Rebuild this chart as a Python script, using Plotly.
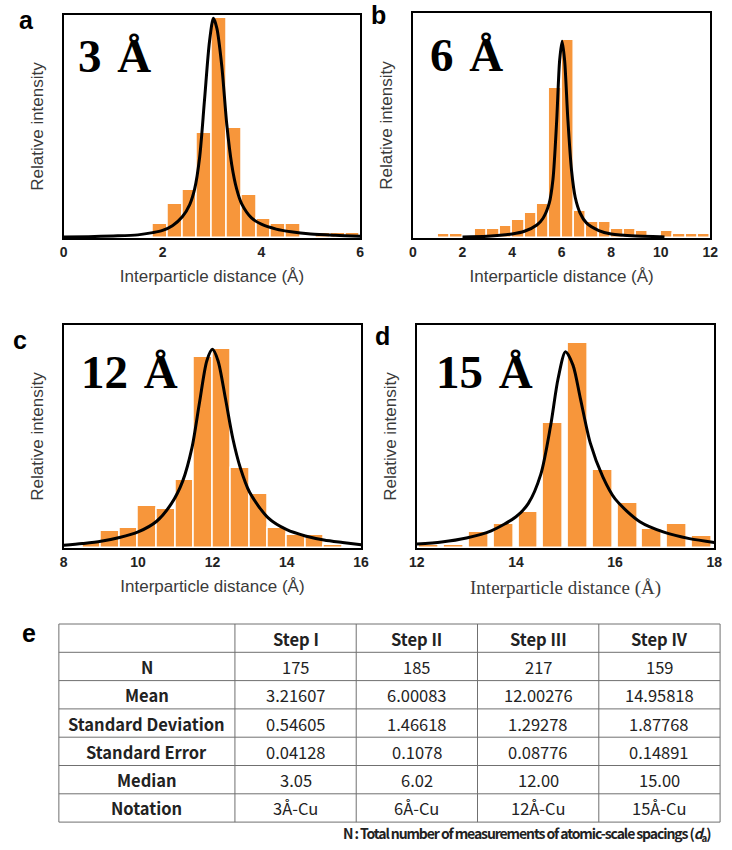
import plotly.graph_objects as go

# ---------------- data ----------------
# Panel a: 3 Å spacing histogram (bin centres, relative intensity) and fitted curve
a_bin_x = [1.95, 2.25, 2.55, 2.85, 3.15, 3.45, 3.75, 4.05, 4.35, 4.65, 5.25, 5.55, 5.85]
a_bin_y = [0.061, 0.151, 0.214, 0.472, 0.985, 0.494, 0.192, 0.085, 0.061, 0.061, 0.024, 0.024, 0.024]
a_fit_x = [0.0, 0.5, 1.0, 1.5, 1.8, 2.0, 2.2, 2.4, 2.55, 2.65, 2.75, 2.85, 2.95, 3.03,
           3.1, 3.2, 3.3, 3.4, 3.5, 3.6, 3.8, 4.0, 4.3, 4.6, 5.0, 5.5, 6.0]
a_fit_y = [0.004, 0.006, 0.009, 0.014, 0.024, 0.034, 0.055, 0.095, 0.15, 0.22, 0.36, 0.62, 0.88, 0.985,
           0.94, 0.77, 0.51, 0.33, 0.22, 0.154, 0.09, 0.062, 0.04, 0.028, 0.018, 0.012, 0.008]

# Panel b: 6 Å
b_bin_x = [1.25, 1.75, 2.75, 3.25, 3.75, 4.25, 4.75, 5.25, 5.75, 6.25, 6.75, 7.25, 7.75,
           8.25, 8.75, 9.25, 10.25, 10.75, 11.25, 11.75]
b_bin_y = [0.018, 0.018, 0.041, 0.041, 0.055, 0.081, 0.111, 0.153, 0.667, 0.881, 0.12, 0.07, 0.07,
           0.041, 0.041, 0.03, 0.03, 0.018, 0.018, 0.018]
b_fit_x = [2.0, 3.0, 4.0, 4.5, 5.0, 5.25, 5.5, 5.65, 5.8, 5.92, 6.02, 6.12, 6.25, 6.4, 6.55,
           6.75, 7.0, 7.5, 8.0, 9.0, 10.0, 10.15]
b_fit_y = [0.005, 0.008, 0.018, 0.03, 0.058, 0.088, 0.155, 0.26, 0.52, 0.79, 0.875, 0.79, 0.53, 0.3, 0.18,
           0.11, 0.067, 0.033, 0.018, 0.009, 0.006, 0.005]

# Panel c: 12 Å
c_bin_x = [8.75, 9.25, 9.75, 10.25, 10.75, 11.25, 11.75, 12.25, 12.75, 13.25, 13.75, 14.25, 14.75, 15.25]
c_bin_y = [0.022, 0.078, 0.09, 0.19, 0.175, 0.306, 0.855, 0.891, 0.361, 0.242, 0.09, 0.06, 0.06, 0.012]
c_fit_x = [8.0, 8.5, 9.0, 9.5, 10.0, 10.5, 10.9, 11.2, 11.45, 11.65, 11.85, 12.0, 12.15, 12.35,
           12.55, 12.75, 13.0, 13.5, 14.0, 14.5, 15.0, 15.5, 16.0]
c_fit_y = [0.012, 0.02, 0.03, 0.047, 0.072, 0.12, 0.2, 0.3, 0.45, 0.65, 0.84, 0.891, 0.84, 0.67,
           0.49, 0.36, 0.25, 0.135, 0.082, 0.054, 0.036, 0.025, 0.015]

# Panel d: 15 Å
d_bin_x = [12.25, 12.75, 13.25, 13.75, 14.25, 14.75, 15.25, 15.75, 16.25, 16.75, 17.25, 17.75]
d_bin_y = [0.015, 0.012, 0.07, 0.109, 0.161, 0.56, 0.918, 0.351, 0.201, 0.087, 0.107, 0.052]
d_fit_x = [12.0, 12.5, 13.0, 13.5, 14.0, 14.25, 14.5, 14.7, 14.85, 15.0, 15.15, 15.3, 15.5,
           15.75, 16.0, 16.5, 17.0, 17.5, 18.0]
d_fit_y = [0.018, 0.027, 0.045, 0.077, 0.14, 0.2, 0.33, 0.55, 0.76, 0.88, 0.82, 0.67, 0.47,
           0.32, 0.22, 0.118, 0.07, 0.042, 0.025]

# Panel e: summary statistics table
table_header = ["", "Step I", "Step II", "Step III", "Step IV"]
row_labels = ["N", "Mean", "Standard Deviation", "Standard Error", "Median", "Notation"]
step1 = ["175", "3.21607", "0.54605", "0.04128", "3.05", "3Å-Cu"]
step2 = ["185", "6.00083", "1.46618", "0.1078", "6.02", "6Å-Cu"]
step3 = ["217", "12.00276", "1.29278", "0.08776", "12.00", "12Å-Cu"]
step4 = ["159", "14.95818", "1.87768", "0.14891", "15.00", "15Å-Cu"]

panel_numbers = ["3", "6", "12", "15"]
x_ranges = [[0, 6], [0, 12], [8, 16], [12, 18]]

# ---------------- layout helpers ----------------
W, H = 732, 850


def px(x):
    return x / W


def py(y):
    return 1 - y / H


BAR = "#F7963B"
SANS = "Liberation Sans, Arial, sans-serif"
SERIF = "Liberation Serif, Times New Roman, serif"
KR = "Noto Sans CJK KR, Noto Sans, sans-serif"
AXIS_TXT = "#3a3a3a"

# plot-area boxes: (left, top, right, bottom) in pixels
boxes = [(57, 15, 360, 238), (414, 13, 718, 238), (57, 325, 361, 548), (418, 325, 722, 548)]

fig = go.Figure()

panels = [
    (a_bin_x, a_bin_y, a_fit_x, a_fit_y, 0.3),
    (b_bin_x, b_bin_y, b_fit_x, b_fit_y, 0.5),
    (c_bin_x, c_bin_y, c_fit_x, c_fit_y, 0.5),
    (d_bin_x, d_bin_y, d_fit_x, d_fit_y, 0.4),
]

for i, (bx, by, fx, fy, w) in enumerate(panels):
    n = i + 1
    xa = "x" if n == 1 else f"x{n}"
    ya = "y" if n == 1 else f"y{n}"
    fig.add_trace(go.Bar(x=bx, y=by, width=w, marker=dict(color=BAR, line=dict(color="white", width=1.5)),
                         xaxis=xa, yaxis=ya, showlegend=False, hoverinfo="skip"))
    fig.add_trace(go.Scatter(x=fx, y=fy, mode="lines",
                             line=dict(color="black", width=3, shape="spline", smoothing=0.8),
                             xaxis=xa, yaxis=ya, showlegend=False, hoverinfo="skip"))

    l, t, r, b = boxes[i]
    if n == 4:
        title_font = dict(family=SERIF, size=19, color=AXIS_TXT)
    else:
        title_font = dict(family=SANS, size=17, color=AXIS_TXT)
    fig.layout[f"xaxis{'' if n == 1 else n}"] = dict(
        domain=[px(l), px(r)], anchor=ya, range=x_ranges[i], dtick=2, ticks="",
        showline=True, mirror=True, linecolor="black", linewidth=1.6, showgrid=False, zeroline=False,
        tickfont=dict(family=SANS, size=14, color="#222", weight=700),
        title=dict(text="Interparticle distance (Å)", font=title_font, standoff=12),
    )
    fig.layout[f"yaxis{'' if n == 1 else n}"] = dict(
        domain=[py(b), py(t)], anchor=xa, range=[0, 1], showticklabels=False, ticks="",
        showline=True, mirror=True, linecolor="black", linewidth=1.6, showgrid=False, zeroline=False,
        title=dict(text="Relative intensity", font=dict(family=SANS, size=17, color=AXIS_TXT), standoff=14),
    )

# big spacing labels inside each panel
big_pos = [(70, 56), (429, 55), (73, 372), (436, 372)]
for (x, y), num in zip(big_pos, panel_numbers):
    fig.add_annotation(x=px(x), y=py(y), xref="paper", yref="paper", xanchor="left", yanchor="middle",
                       text=f"<b>{num} \u200aÅ</b>", showarrow=False,
                       font=dict(family=SERIF, size=47, color="black"))

# panel letters
letters = [("a", 19, 20), ("b", 379, 15), ("c", 12, 340), ("d", 383, 336), ("e", 21, 633)]
for s, x, y in letters:
    fig.add_annotation(x=px(x), y=py(y), xref="paper", yref="paper", xanchor="center", yanchor="middle",
                       text=f"<b>{s}</b>", showarrow=False, font=dict(family=SANS, size=25, color="black"))

# ---------------- statistics table (grid + centred cell text) ----------------
tbl_left, tbl_top, row_h = 52, 624, 28.3
col_w = [180, 124, 124, 124, 124]
col_edges = [tbl_left]
for cw in col_w:
    col_edges.append(col_edges[-1] + cw)
n_rows = len(row_labels) + 1
row_edges = [tbl_top + k * row_h for k in range(n_rows + 1)]
GRID = "#707070"

for yy in row_edges:
    fig.add_shape(type="line", xref="paper", yref="paper", x0=px(col_edges[0]), x1=px(col_edges[-1]),
                  y0=py(yy), y1=py(yy), line=dict(color=GRID, width=1))
for xx in col_edges:
    fig.add_shape(type="line", xref="paper", yref="paper", x0=px(xx), x1=px(xx),
                  y0=py(row_edges[0]), y1=py(row_edges[-1]), line=dict(color=GRID, width=1))

columns = [[f"<b>{s}</b>" for s in row_labels], step1, step2, step3, step4]
header_cells = [f"<b>{h}</b>" if h else "" for h in table_header]
for c in range(len(col_w)):
    cx = (col_edges[c] + col_edges[c + 1]) / 2
    cells = [header_cells[c]] + columns[c]
    for r, txt in enumerate(cells):
        if not txt:
            continue
        cy = (row_edges[r] + row_edges[r + 1]) / 2
        fig.add_annotation(x=px(cx), y=py(cy + 0.5), xref="paper", yref="paper", xanchor="center",
                           yanchor="middle", text=txt, showarrow=False,
                           font=dict(family=KR, size=16.5, color="#222"))

fig.add_annotation(x=px(721), y=py(834), xref="paper", yref="paper", xanchor="right", yanchor="middle",
                   text="<span style='letter-spacing:-1.1px'><b>N : Total number of measurements of "
                        "atomic-scale spacings (<i>d</i><sub>a</sub>)</b></span>",
                   showarrow=False, font=dict(family=KR, size=14, color="#222"))

fig.update_layout(width=W, height=H, margin=dict(l=0, r=0, t=0, b=0), paper_bgcolor="white",
                  plot_bgcolor="white", bargap=0)

fig.write_html("out.html")
